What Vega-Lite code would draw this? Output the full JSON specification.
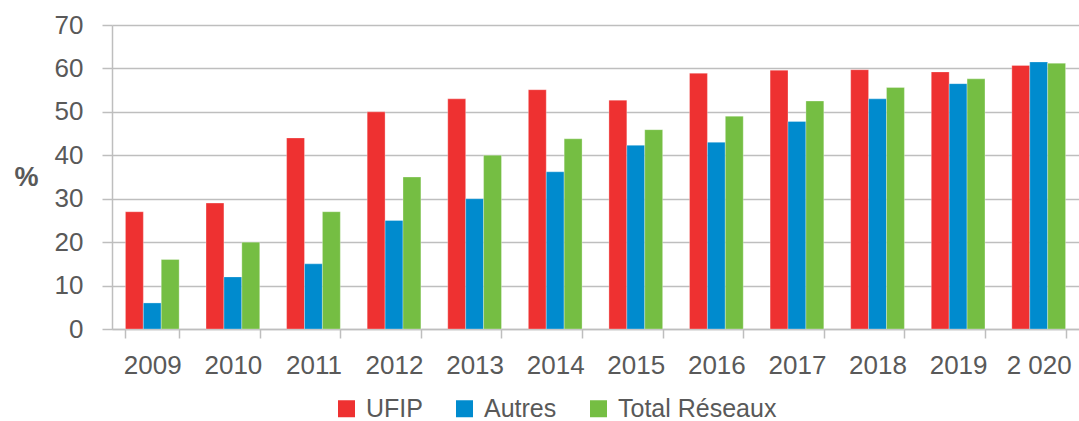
{
  "$schema": "https://vega.github.io/schema/vega-lite/v6.json",
  "width": 967,
  "height": 304,
  "autosize": {"type": "none"},
  "padding": {"left": 112, "top": 25, "right": 0, "bottom": 92},
  "background": "white",
  "config": {
    "view": {"stroke": null},
    "font": "Liberation Sans",
    "axis": {"labelFont": "Liberation Sans", "labelColor": "#595959", "labelFontSize": 26, "domainColor": "#BEBEBE", "tickColor": "#BEBEBE", "gridColor": "#BEBEBE", "domainWidth": 1.5, "tickWidth": 1.5, "gridWidth": 1.5}
  },
  "data": {
    "values": [
      {"year": "2009", "series": "UFIP", "value": 27},
      {"year": "2009", "series": "Autres", "value": 6},
      {"year": "2009", "series": "Total Réseaux", "value": 16},
      {"year": "2010", "series": "UFIP", "value": 29},
      {"year": "2010", "series": "Autres", "value": 12},
      {"year": "2010", "series": "Total Réseaux", "value": 20},
      {"year": "2011", "series": "UFIP", "value": 44},
      {"year": "2011", "series": "Autres", "value": 15},
      {"year": "2011", "series": "Total Réseaux", "value": 27},
      {"year": "2012", "series": "UFIP", "value": 50},
      {"year": "2012", "series": "Autres", "value": 25},
      {"year": "2012", "series": "Total Réseaux", "value": 35},
      {"year": "2013", "series": "UFIP", "value": 53},
      {"year": "2013", "series": "Autres", "value": 30},
      {"year": "2013", "series": "Total Réseaux", "value": 40},
      {"year": "2014", "series": "UFIP", "value": 55.1},
      {"year": "2014", "series": "Autres", "value": 36.2},
      {"year": "2014", "series": "Total Réseaux", "value": 43.8},
      {"year": "2015", "series": "UFIP", "value": 52.7},
      {"year": "2015", "series": "Autres", "value": 42.3},
      {"year": "2015", "series": "Total Réseaux", "value": 45.9},
      {"year": "2016", "series": "UFIP", "value": 58.9},
      {"year": "2016", "series": "Autres", "value": 43},
      {"year": "2016", "series": "Total Réseaux", "value": 49},
      {"year": "2017", "series": "UFIP", "value": 59.6},
      {"year": "2017", "series": "Autres", "value": 47.8},
      {"year": "2017", "series": "Total Réseaux", "value": 52.5},
      {"year": "2018", "series": "UFIP", "value": 59.7},
      {"year": "2018", "series": "Autres", "value": 53},
      {"year": "2018", "series": "Total Réseaux", "value": 55.6},
      {"year": "2019", "series": "UFIP", "value": 59.2},
      {"year": "2019", "series": "Autres", "value": 56.5},
      {"year": "2019", "series": "Total Réseaux", "value": 57.6},
      {"year": "2 020", "series": "UFIP", "value": 60.7},
      {"year": "2 020", "series": "Autres", "value": 61.5},
      {"year": "2 020", "series": "Total Réseaux", "value": 61.2}
    ]
  },
  "mark": {"type": "bar", "stroke": "white", "strokeWidth": 0.5, "strokeOpacity": 0.6},
  "encoding": {
    "x": {
      "field": "year", "type": "nominal", "sort": null,
      "scale": {"paddingInner": 0.3333, "paddingOuter": 0.1667},
      "axis": {"title": null, "labelAngle": 0, "tickBand": "extent", "tickSize": 9, "labelPadding": 14, "grid": false}
    },
    "xOffset": {
      "field": "series", "type": "nominal",
      "sort": ["UFIP", "Autres", "Total Réseaux"],
      "scale": {"paddingInner": 0, "paddingOuter": 0}
    },
    "y": {
      "field": "value", "type": "quantitative",
      "scale": {"domain": [0, 70], "nice": false},
      "axis": {
        "values": [0, 10, 20, 30, 40, 50, 60, 70],
        "tickSize": 10, "labelPadding": 19, "grid": true, "domain": true,
        "title": "%", "titleAngle": 0, "titleX": -86, "titleY": 152,
        "titleAlign": "center", "titleBaseline": "middle",
        "titleFont": "Liberation Sans", "titleFontSize": 27, "titleFontWeight": "bold", "titleColor": "#595959"
      }
    },
    "color": {
      "field": "series", "type": "nominal",
      "sort": ["UFIP", "Autres", "Total Réseaux"],
      "scale": {"domain": ["UFIP", "Autres", "Total Réseaux"], "range": ["#EE3131", "#008BCE", "#75BE43"]},
      "legend": {
        "title": null, "orient": "none", "direction": "horizontal",
        "legendX": 222, "legendY": 371, "padding": 0,
        "symbolType": "square", "symbolSize": 289, "symbolStrokeWidth": 0, "symbolOpacity": 1,
        "labelFont": "Liberation Sans", "labelFontSize": 25, "labelColor": "#595959", "labelLimit": 400,
        "labelOffset": 7, "columnPadding": 29
      }
    }
  }
}
